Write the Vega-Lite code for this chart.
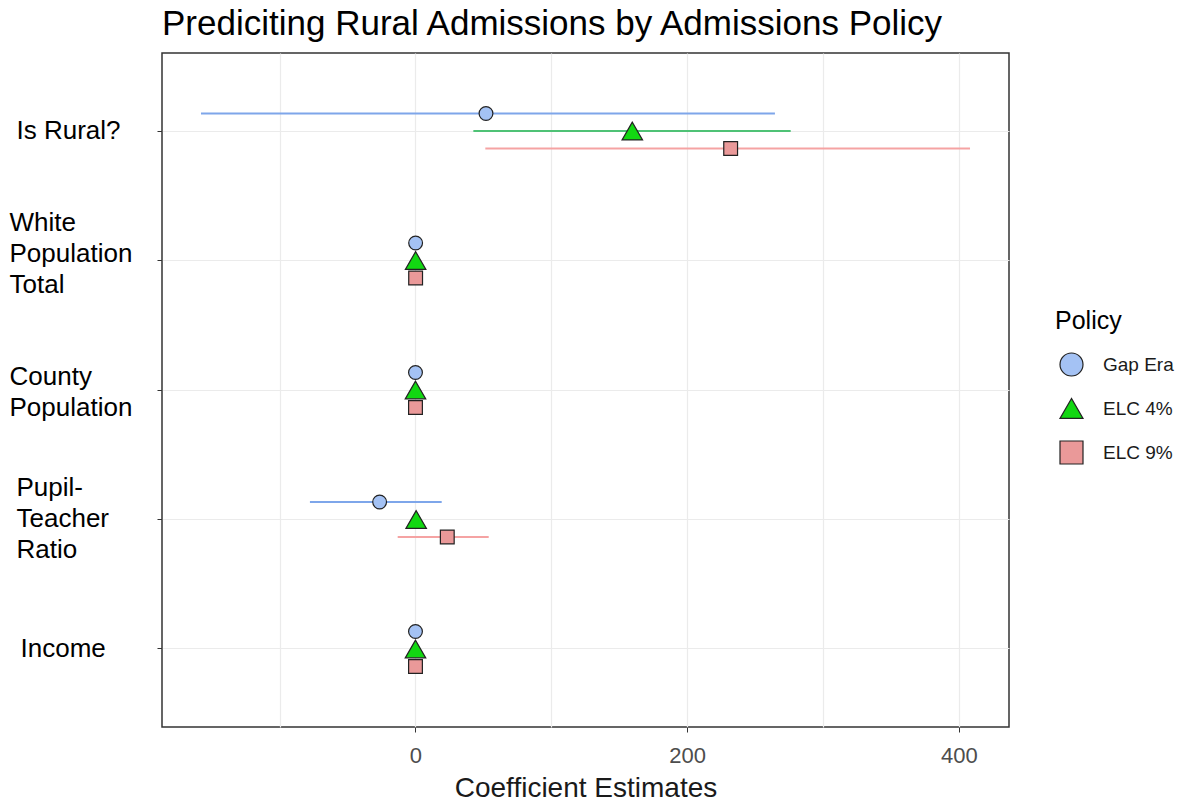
{
  "$schema": "https://vega.github.io/schema/vega-lite/v6.json",
  "width": 847,
  "height": 674,
  "autosize": "none",
  "padding": {"left": 162, "top": 53, "right": 173, "bottom": 74},
  "background": "white",
  "title": {
    "text": "Prediciting Rural Admissions by Admissions Policy",
    "anchor": "start",
    "frame": "group",
    "font": "Liberation Sans",
    "fontSize": 35,
    "fontWeight": "normal",
    "color": "#000000",
    "offset": 16,
    "baseline": "alphabetic",
    "dy": 33
  },
  "config": {
    "view": {"stroke": "#333333", "strokeWidth": 1.5},
    "font": "Liberation Sans"
  },
  "data": {
    "values": [
      {"term": "Is Rural?", "policy": "Gap Era", "est": 51.9, "lo": -157.9, "hi": 264.6},
      {"term": "Is Rural?", "policy": "ELC 4%", "est": 159.6, "lo": 42.6, "hi": 276.2},
      {"term": "Is Rural?", "policy": "ELC 9%", "est": 232.0, "lo": 51.4, "hi": 408.2},
      {"term": "White Population Total", "policy": "Gap Era", "est": 0.1, "lo": -0.5, "hi": 0.6},
      {"term": "White Population Total", "policy": "ELC 4%", "est": 0.1, "lo": -0.5, "hi": 0.6},
      {"term": "White Population Total", "policy": "ELC 9%", "est": 0.1, "lo": -0.5, "hi": 0.6},
      {"term": "County Population", "policy": "Gap Era", "est": 0.0, "lo": -0.5, "hi": 0.5},
      {"term": "County Population", "policy": "ELC 4%", "est": 0.0, "lo": -0.5, "hi": 0.5},
      {"term": "County Population", "policy": "ELC 9%", "est": 0.0, "lo": -0.5, "hi": 0.5},
      {"term": "Pupil-Teacher Ratio", "policy": "Gap Era", "est": -26.4, "lo": -77.7, "hi": 19.3},
      {"term": "Pupil-Teacher Ratio", "policy": "ELC 4%", "est": 0.5, "lo": -2.0, "hi": 3.0},
      {"term": "Pupil-Teacher Ratio", "policy": "ELC 9%", "est": 23.4, "lo": -13.1, "hi": 53.9},
      {"term": "Income", "policy": "Gap Era", "est": 0.0, "lo": -0.5, "hi": 0.5},
      {"term": "Income", "policy": "ELC 4%", "est": 0.0, "lo": -0.5, "hi": 0.5},
      {"term": "Income", "policy": "ELC 9%", "est": 0.0, "lo": -1.5, "hi": 1.5}
    ]
  },
  "encoding": {
    "y": {
      "field": "term",
      "type": "nominal",
      "sort": ["Is Rural?", "White Population Total", "County Population", "Pupil-Teacher Ratio", "Income"],
      "scale": {"paddingInner": 0.595, "paddingOuter": 0.4},
      "axis": {
        "title": null,
        "domain": false,
        "ticks": true,
        "tickColor": "#333333",
        "tickSize": 5,
        "labelFont": "Liberation Sans",
        "labelFontSize": 26,
        "labelColor": "#000000",
        "labelAlign": "left",
        "labelPadding": {"expr": "datum.value == 'White Population Total' || datum.value == 'County Population' ? 148 : datum.value == 'Income' ? 137 : 141"},
        "labelOffset": {"expr": "datum.value == 'White Population Total' ? -38 : datum.value == 'Pupil-Teacher Ratio' ? -31 : datum.value == 'County Population' ? -13 : 0"},
        "labelLineHeight": 31,
        "labelBaseline": "middle",
        "labelLimit": 0,
        "grid": true,
        "gridColor": "#ebebeb",
        "gridWidth": 1.2,
        "labelExpr": "datum.value == 'White Population Total' ? ['White','Population','Total'] : datum.value == 'County Population' ? ['County','Population'] : datum.value == 'Pupil-Teacher Ratio' ? ['Pupil-','Teacher','Ratio'] : datum.value"
      }
    },
    "yOffset": {
      "field": "policy",
      "type": "nominal",
      "sort": ["Gap Era", "ELC 4%", "ELC 9%"],
      "scale": {"paddingInner": 0, "paddingOuter": 0}
    }
  },
  "layer": [
    {
      "mark": {"type": "rule", "strokeWidth": 2},
      "encoding": {
        "x": {
          "field": "lo",
          "type": "quantitative",
          "scale": {"domain": [-186.6, 436.9], "nice": false, "zero": false},
          "axis": {
            "title": "Coefficient Estimates",
            "values": [-100, 0, 100, 200, 300, 400],
            "labelExpr": "datum.value % 200 == 0 ? datum.label : ''",
            "tickOpacity": {"condition": {"test": "datum.value % 200 == 0", "value": 1}, "value": 0},
            "domain": false,
            "tickColor": "#333333",
            "tickSize": 5,
            "labelFont": "Liberation Sans",
            "labelFontSize": 22,
            "labelColor": "#4d4d4d",
            "labelPadding": 13,
            "labelFlush": false,
            "titleFont": "Liberation Sans",
            "titleFontSize": 28,
            "titleFontWeight": "normal",
            "titleColor": "#1a1a1a",
            "titlePadding": 8,
            "grid": true,
            "gridColor": "#ebebeb",
            "gridWidth": 1.2
          }
        },
        "x2": {"field": "hi"},
        "stroke": {
          "field": "policy",
          "type": "nominal",
          "scale": {"domain": ["ELC 9%", "ELC 4%", "Gap Era"], "range": ["#f5a3a3", "#4fc276", "#7ea6ea"]},
          "legend": null
        }
      }
    },
    {
      "mark": {"type": "point", "filled": true, "stroke": "#222222", "strokeWidth": 1.2, "opacity": 1},
      "encoding": {
        "x": {"field": "est", "type": "quantitative"},
        "size": {
          "field": "policy",
          "type": "nominal",
          "scale": {"type": "ordinal", "domain": ["ELC 9%", "ELC 4%", "Gap Era"], "range": [190, 420, 190]},
          "legend": null
        },
        "fill": {
          "field": "policy",
          "type": "nominal",
          "scale": {"domain": ["Gap Era", "ELC 4%", "ELC 9%"], "range": ["#a4c2f4", "#12d812", "#ea9999"]},
          "legend": {
            "title": "Policy",
            "orient": "none",
            "legendX": 893,
            "legendY": 256,
            "titleFont": "Liberation Sans",
            "titleFontSize": 25,
            "titleFontWeight": "normal",
            "titleColor": "#000000",
            "labelFont": "Liberation Sans",
            "labelFontSize": 19,
            "labelColor": "#1a1a1a",
            "symbolSize": 529,
            "symbolStrokeColor": "#222222",
            "symbolStrokeWidth": 1.2,
            "symbolOpacity": 1,
            "rowPadding": 17,
            "labelOffset": 19,
            "symbolOffset": 4,
            "titlePadding": 18,
            "padding": 0
          }
        },
        "shape": {
          "field": "policy",
          "type": "nominal",
          "scale": {"domain": ["Gap Era", "ELC 4%", "ELC 9%"], "range": ["circle", "triangle-up", "square"]}
        }
      }
    }
  ]
}
